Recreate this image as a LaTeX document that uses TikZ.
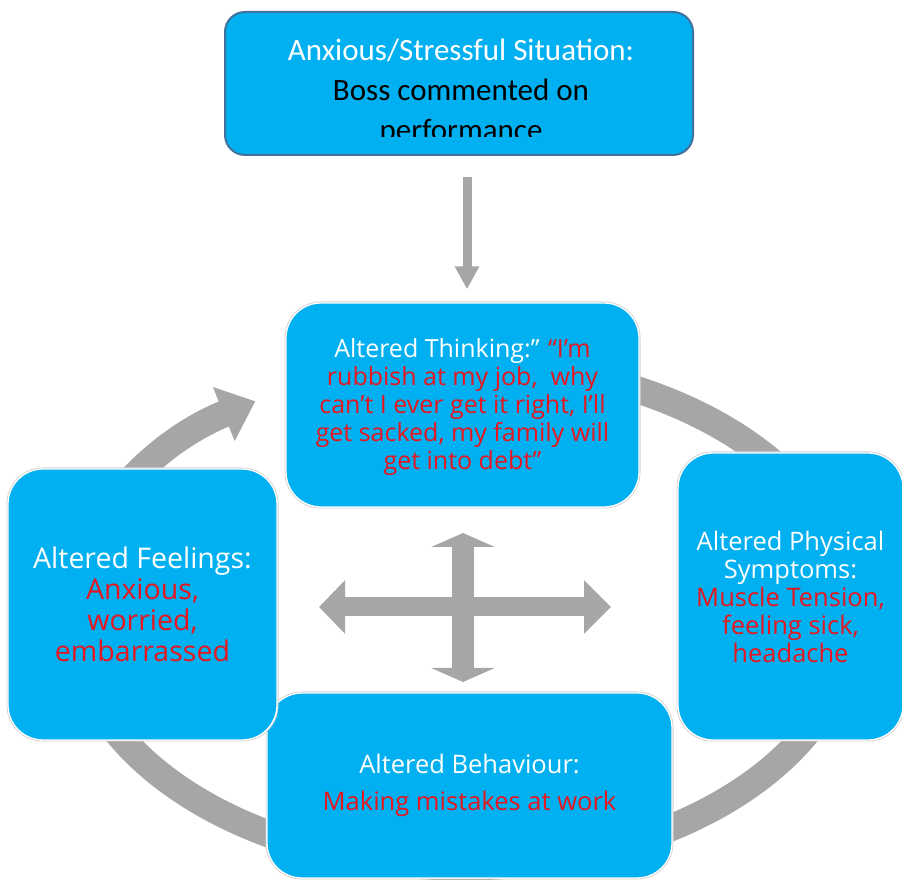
\documentclass[tikz,border=0pt]{standalone}
\usepackage{fontspec}
\setmainfont{Open Sans}
\newfontfamily\calibfont{Carlito}
\usetikzlibrary{arrows.meta,calc}
\definecolor{boxblue}{HTML}{00B0F0}
\definecolor{topedge}{HTML}{41719C}
\definecolor{arrowgray}{HTML}{A6A6A6}
\definecolor{txtred}{HTML}{E8161E}
\begin{document}
\begin{tikzpicture}[x=1pt,y=1pt,
  cyclebox/.style={fill=boxblue, draw=white, line width=1.3pt,
    preaction={draw=gray!35, line width=3pt},
    rounded corners=35pt, inner sep=0pt, align=center, text=white},
  topbox/.style={fill=boxblue, draw=topedge, line width=2pt,
    rounded corners=20pt, inner sep=0pt},
  grayarrow/.style={draw=arrowgray, fill=arrowgray}]
\useasboundingbox (0,0) rectangle (902,880);

% big circular arrow (behind the boxes)
\coordinate (ringc) at (462,265);
\draw[grayarrow, fill=none, line width=27pt, -{Triangle[width=56pt,length=34pt]}]
  ($(ringc)+(80:390 and 252)$) arc[start angle=80, end angle=-238, x radius=390, y radius=252];

% boxes
\node[topbox, minimum width=468pt, minimum height=143pt] (top) at (459,796.5) {};
\begin{scope}
  \clip (225,743) rectangle (693,868);
  \node[align=center, font=\calibfont\fontsize{31}{40}\selectfont] (toptext) at (461,788)
    {\textcolor{white}{Anxious/Stressful Situation:}\\ Boss commented on\\ performance};
\end{scope}

\node[cyclebox, minimum width=405pt, minimum height=185pt,
  font=\fontsize{25.5}{37}\selectfont] (behav) at (469.5,94.5)
  {Altered Behaviour:\\ \textcolor{txtred}{Making mistakes at work}};

\node[cyclebox, minimum width=269pt, minimum height=271pt,
  font=\fontsize{28.5}{31}\selectfont] (feel) at (142.5,275.5)
  {Altered Feelings:\\ \textcolor{txtred}{Anxious,}\\ \textcolor{txtred}{worried,}\\ \textcolor{txtred}{embarrassed}};

\node[cyclebox, minimum width=225pt, minimum height=287pt,
  font=\fontsize{25.5}{28}\selectfont] (phys) at (790.5,283.5)
  {Altered Physical\\ Symptoms:\\ \textcolor{txtred}{Muscle Tension,}\\ \textcolor{txtred}{feeling sick,}\\ \textcolor{txtred}{headache}};

\node[cyclebox, minimum width=353pt, minimum height=204pt,
  font=\fontsize{25}{28}\selectfont] (think) at (462.5,475) {};
\node[align=center, text=white, inner sep=0pt,
  font=\fontsize{25}{28}\selectfont] (thinktext) at (462.5,472.5)
  {Altered Thinking:” \textcolor{txtred}{“I’m}\\
   \textcolor{txtred}{rubbish at my job,\ \ why}\\
   \textcolor{txtred}{can’t I ever get it right, I’ll}\\
   \textcolor{txtred}{get sacked, my family will}\\
   \textcolor{txtred}{get into debt”}};

% arrow from situation to thinking
\draw[grayarrow, line width=9pt, -{Triangle[width=23pt,length=23pt]}]
  ([xshift=8pt,yshift=-21pt]top.south) -- ([xshift=4.5pt,yshift=13pt]think.north);

% central cross arrows
\coordinate (hl) at (319,273);
\coordinate (hr) at (611,273);
\coordinate (vt) at (463,347);
\coordinate (vb) at (463,198);
\draw[grayarrow, line width=19pt, {Triangle[width=52pt,length=26pt]}-{Triangle[width=52pt,length=27pt]}] (hl) -- (hr);
\draw[grayarrow, line width=22pt, {Triangle[width=63pt,length=14pt]}-{Triangle[width=63pt,length=14pt]}] (vt) -- (vb);
\end{tikzpicture}
\end{document}
